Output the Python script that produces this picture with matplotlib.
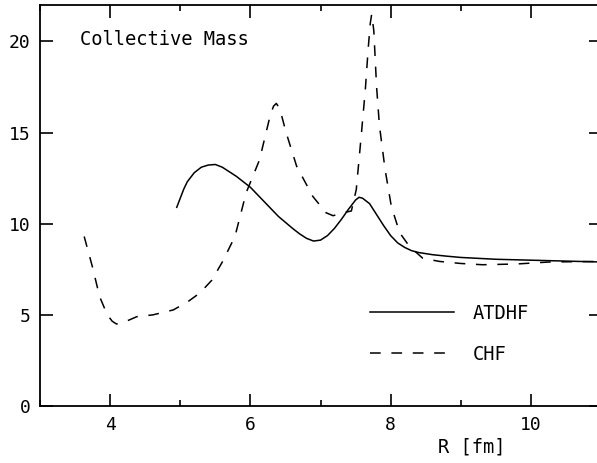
import matplotlib
matplotlib.use("Agg")
import matplotlib.pyplot as plt
from matplotlib.ticker import MultipleLocator

# ATDHF collective mass (solid)
atdhf_r = [4.95, 5.0, 5.05, 5.1, 5.2, 5.3, 5.4, 5.5, 5.6, 5.7, 5.8, 6.0, 6.2, 6.4, 6.6,
           6.7, 6.8, 6.9, 7.0, 7.1, 7.2, 7.3, 7.4, 7.5, 7.55, 7.6, 7.7, 7.8, 7.9, 8.0,
           8.1, 8.2, 8.3, 8.4, 8.6, 8.8, 9.0, 9.5, 10.0, 10.5, 11.0]
atdhf_m = [10.9, 11.4, 11.9, 12.3, 12.8, 13.1, 13.22, 13.25, 13.1, 12.85, 12.6, 12.0, 11.2, 10.4, 9.75,
           9.45, 9.2, 9.05, 9.1, 9.35, 9.75, 10.25, 10.8, 11.3, 11.45, 11.4, 11.1, 10.5, 9.9, 9.35,
           8.95, 8.7, 8.52, 8.42, 8.3, 8.22, 8.15, 8.05, 8.0, 7.95, 7.9]

# CHF collective mass (dashed)
chf_r = [3.63, 3.75, 3.85, 3.96, 4.03, 4.09, 4.2, 4.38, 4.61, 4.9, 5.1, 5.28, 5.45, 5.6,
         5.78, 5.94, 6.13, 6.28, 6.33, 6.37, 6.42, 6.51, 6.66, 6.89, 7.08, 7.18, 7.32, 7.44,
         7.51, 7.58, 7.64, 7.68, 7.71, 7.73, 7.76, 7.8, 7.84, 7.92, 8.01, 8.13, 8.27, 8.46,
         8.7, 9.0, 9.31, 9.79, 10.26, 10.93]
chf_m = [9.3, 7.6, 6.0, 5.0, 4.65, 4.5, 4.6, 4.9, 5.0, 5.27, 5.7, 6.2, 6.9, 7.9,
         9.3, 11.7, 13.5, 15.9, 16.45, 16.6, 16.3, 15.0, 13.15, 11.5, 10.6, 10.44, 10.6, 10.7,
         11.87, 14.8, 17.4, 19.6, 21.0, 21.5, 20.6, 17.5, 15.4, 13.0, 10.95, 9.5, 8.75, 8.1,
         7.93, 7.82, 7.75, 7.79, 7.9, 7.93]

x_ticks = [4, 6, 8, 10]
y_ticks = [0, 5, 10, 15, 20]

plt.rcParams["font.family"] = "DejaVu Sans Mono"

fig = plt.figure(figsize=(5.97, 4.63), dpi=100)
W, H = 597, 463
# x=3 sits at px 40, x=11 at px 601 (right spine falls just off the image)
ax = fig.add_axes([40 / W, (H - 406) / H, (601 - 40) / W, (406 - 5) / H])

ax.plot(atdhf_r, atdhf_m, color="black", lw=1.1, label="ATDHF")
ax.plot(chf_r, chf_m, color="black", lw=1.1, linestyle=(0, (7, 7)), label="CHF")

ax.set_xlim(3, 11)
ax.set_ylim(0, 22)
ax.set_xticks(x_ticks)
ax.set_yticks(y_ticks)
ax.xaxis.set_minor_locator(MultipleLocator(1))

for s in ax.spines.values():
    s.set_linewidth(1.3)

ax.tick_params(axis="both", which="major", direction="in", length=9, width=1.2,
               labelsize=13, pad=7, top=True, right=True)
ax.tick_params(axis="x", which="minor", direction="in", length=4.5, width=1.2,
               top=True, bottom=True)

ax.text(3.57, 20.1, "Collective Mass", fontsize=13.5, va="center", ha="left")
fig.text(472 / W, 1 - 447 / H, "R [fm]", fontsize=13.5, ha="center", va="center")

ax.legend(frameon=False, loc="upper left",
          bbox_to_anchor=(370 / W, 1 - 304 / H), bbox_transform=fig.transFigure,
          fontsize=13.5, handlelength=4.5, handletextpad=1.0, labelspacing=1.15,
          borderpad=0, borderaxespad=0)

fig.savefig("out.png", dpi=100)
